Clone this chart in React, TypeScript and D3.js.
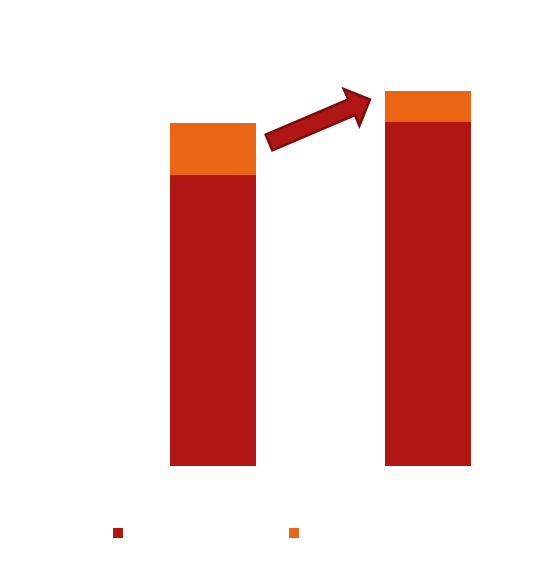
import React from "react";
import * as d3 from "d3";

const categories = ["Period 1", "Period 2"];
const seriesNames = ["Series A", "Series B"];
const seriesA = [291, 344];
const seriesB = [52, 31];
const colors = ["#B01613", "#EA6514"];

export default function App() {
  const width = 558;
  const height = 562;
  const x = d3.scaleBand<string>().domain(categories).range([62.5, 578.5]).paddingInner(0.6).paddingOuter(0.5);
  const y = d3.scaleLinear().domain([0, 400]).range([466, 66]);

  const stackData = categories.map((c, i) => ({ cat: c, a: seriesA[i], b: seriesB[i] }));
  const stack = d3.stack<any>().keys(["a", "b"]);
  const layers = stack(stackData);

  // arrow from top of first bar to top of second bar
  const tail: [number, number] = [269, 142.5];
  const tip: [number, number] = [370, 99.5];
  const dx = tip[0] - tail[0];
  const dy = tip[1] - tail[1];
  const len = Math.sqrt(dx * dx + dy * dy);
  const ang = (Math.atan2(dy, dx) * 180) / Math.PI;
  const hw = 8.5;
  const headLen = 20;
  const headHw = 20;
  const arrowPts = [
    [0, -hw],
    [len - headLen, -hw],
    [len - headLen, -headHw],
    [len, 0],
    [len - headLen, headHw],
    [len - headLen, hw],
    [0, hw],
  ]
    .map((p) => p.join(","))
    .join(" ");

  return (
    <svg width={width} height={height} style={{ position: "absolute", left: 0, top: 0, background: "#fff" }}>
      {layers.map((layer, li) => (
        <g key={li} fill={colors[li]}>
          {layer.map((d: any, i: number) => (
            <rect
              key={i}
              x={x(d.data.cat)}
              width={x.bandwidth()}
              y={y(d[1])}
              height={y(d[0]) - y(d[1])}
            />
          ))}
        </g>
      ))}
      <polygon
        points={arrowPts}
        transform={`translate(${tail[0]},${tail[1]}) rotate(${ang})`}
        fill="#B01613"
        stroke="#7A0E0E"
        strokeWidth={2.5}
        strokeLinejoin="miter"
      />
      {seriesNames.map((s, i) => (
        <rect key={s} x={113 + i * 176} y={528} width={10} height={10} fill={colors[i]} />
      ))}
    </svg>
  );
}
